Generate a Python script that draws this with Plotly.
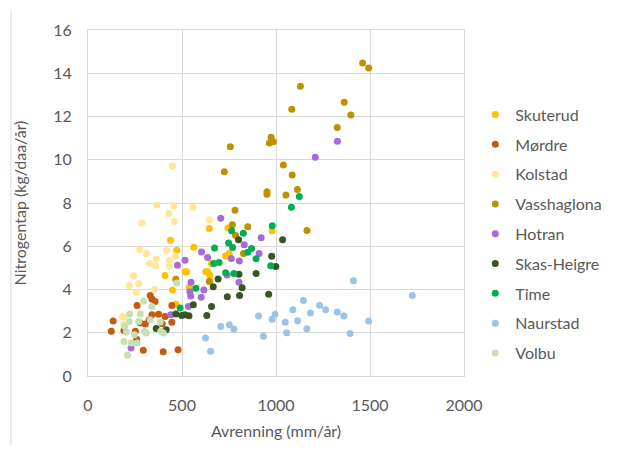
import plotly.graph_objects as go

series_names = ["Skuterud", "Mørdre", "Kolstad", "Vasshaglona", "Hotran",
                "Skas-Heigre", "Time", "Naurstad", "Volbu"]
colors = ["#FFC000", "#C55A11", "#FFE699", "#BF9000", "#A66BD6",
          "#375623", "#00B050", "#9DC3E6", "#C5E0B4"]

skuterud_x = [410, 439, 449, 467, 472, 516, 525, 539, 563, 627, 636, 645, 648, 648, 657, 732, 745, 750, 979]
skuterud_y = [4.65, 6.28, 3.98, 3.32, 5.81, 4.82, 4.82, 4.1, 5.95, 4.82, 4.82, 6.82, 4.36, 4.66, 5.2, 5.55, 6.84, 5.66, 6.72]

mordre_x = [124, 134, 191, 252, 261, 278, 294, 305, 326, 331, 340, 340, 357, 375, 395, 400, 410, 446, 446, 479, 259]
mordre_y = [2.07, 2.54, 2.1, 2.07, 3.26, 2.45, 1.19, 2.4, 2.6, 3.72, 3.56, 2.83, 3.44, 2.85, 2.42, 1.12, 2.75, 3.26, 2.48, 1.21, 1.7]

kolstad_x = [182, 191, 189, 220, 243, 256, 270, 275, 287, 310, 328, 354, 361, 363, 366, 418, 430, 433, 433, 449, 456, 460, 465, 558, 646]
kolstad_y = [2.75, 2.72, 2.37, 4.17, 4.63, 3.87, 4.28, 5.84, 7.08, 5.66, 5.2, 4.0, 5.09, 5.41, 7.91, 5.8, 7.51, 5.35, 5.08, 9.71, 7.86, 7.14, 5.54, 7.8, 7.23]

vass_x = [467, 645, 725, 757, 768, 782, 785, 827, 850, 952, 952, 965, 974, 986, 1039, 1053, 1084, 1086, 1114, 1130, 1165, 1326, 1363, 1398, 1461, 1493]
vass_y = [4.47, 4.38, 9.45, 10.6, 7.0, 7.66, 6.5, 5.66, 6.9, 8.52, 8.41, 10.78, 11.04, 10.83, 9.76, 8.37, 12.33, 9.3, 8.62, 13.4, 6.73, 11.49, 12.66, 12.07, 14.47, 14.24]

hotran_x = [229, 440, 476, 516, 534, 542, 546, 548, 602, 604, 616, 636, 706, 740, 762, 803, 805, 831, 910, 921, 1209, 1327]
hotran_y = [1.3, 2.83, 5.12, 5.35, 3.21, 3.9, 3.7, 4.33, 3.64, 5.73, 3.98, 5.48, 7.3, 4.67, 5.43, 4.33, 5.32, 6.07, 5.66, 6.39, 10.12, 10.86]

skas_x = [363, 416, 467, 498, 516, 537, 560, 632, 657, 666, 692, 741, 801, 803, 806, 820, 894, 961, 977, 999, 1035]
skas_y = [2.2, 2.14, 2.87, 2.8, 2.83, 2.79, 3.29, 2.8, 3.21, 4.13, 4.48, 3.67, 6.3, 4.7, 3.72, 4.08, 4.74, 3.78, 5.54, 5.06, 6.3]

time_x = [490, 574, 669, 673, 697, 732, 748, 764, 769, 776, 826, 850, 870, 894, 972, 980, 1082, 1124]
time_y = [3.15, 4.06, 5.2, 5.92, 5.25, 4.78, 6.15, 6.72, 5.94, 4.74, 6.6, 5.72, 5.9, 5.42, 5.1, 6.95, 7.8, 8.3]

naur_x = [625, 652, 706, 752, 776, 907, 933, 979, 995, 1049, 1057, 1090, 1115, 1146, 1164, 1183, 1232, 1264, 1326, 1361, 1394, 1412, 1493, 1725]
naur_y = [1.76, 1.15, 2.29, 2.37, 2.17, 2.78, 1.84, 2.63, 2.86, 2.48, 2.0, 3.06, 2.55, 3.49, 2.19, 2.91, 3.27, 3.06, 2.96, 2.78, 1.96, 4.4, 2.54, 3.72]

volbu_x = [191, 204, 210, 220, 222, 229, 247, 261, 270, 278, 296, 301, 310, 331, 340, 384, 387, 401, 472, 195]
volbu_y = [1.6, 2.03, 0.96, 2.52, 2.87, 1.53, 1.91, 1.53, 2.52, 2.87, 3.47, 2.06, 1.99, 2.6, 3.21, 2.5, 2.07, 1.99, 4.3, 2.3]

xs = [skuterud_x, mordre_x, kolstad_x, vass_x, hotran_x, skas_x, time_x, naur_x, volbu_x]
ys = [skuterud_y, mordre_y, kolstad_y, vass_y, hotran_y, skas_y, time_y, naur_y, volbu_y]

x_ticks = [0, 500, 1000, 1500, 2000]
y_ticks = [0, 2, 4, 6, 8, 10, 12, 14, 16]

fig = go.Figure()
for name, c, x, y in zip(series_names, colors, xs, ys):
    fig.add_trace(go.Scatter(x=x, y=y, mode="markers", name=name, legendgroup=name,
                             marker=dict(color=c, size=7, line=dict(width=0))))

font_family = "Lato, Open Sans, sans-serif"
fig.update_layout(
    width=612, height=441,
    margin=dict(l=78, r=156, t=19, b=72),
    paper_bgcolor="white", plot_bgcolor="white",
    font=dict(family=font_family, size=16, color="#595959"),
    showlegend=True,
    legend=dict(x=1.03, y=0.41, xanchor="left", yanchor="middle",
                tracegroupgap=6, font=dict(size=16, color="#595959"),
                itemwidth=30, borderwidth=0),
    xaxis=dict(range=[0, 2000], tickvals=x_ticks, showgrid=True, gridcolor="#D9D9D9",
               showline=True, linecolor="#D9D9D9", mirror=True, zeroline=False,
               ticks="", tickfont=dict(size=16), ticklabelstandoff=15,
               title=dict(text="Avrenning (mm/år)", standoff=12, font=dict(size=16))),
    yaxis=dict(range=[0, 16], tickvals=y_ticks, showgrid=True, gridcolor="#D9D9D9",
               showline=True, linecolor="#D9D9D9", mirror=True, zeroline=False,
               ticks="", tickfont=dict(size=16), ticklabelstandoff=12,
               title=dict(text="Nitrogentap (kg/daa/år)", standoff=22, font=dict(size=16))),
)
fig.add_shape(type="line", xref="paper", yref="paper",
              x0=-0.205, x1=-0.205, y0=-0.2, y1=1.06,
              line=dict(color="#D9D9D9", width=1))
fig.write_html("out.html")
